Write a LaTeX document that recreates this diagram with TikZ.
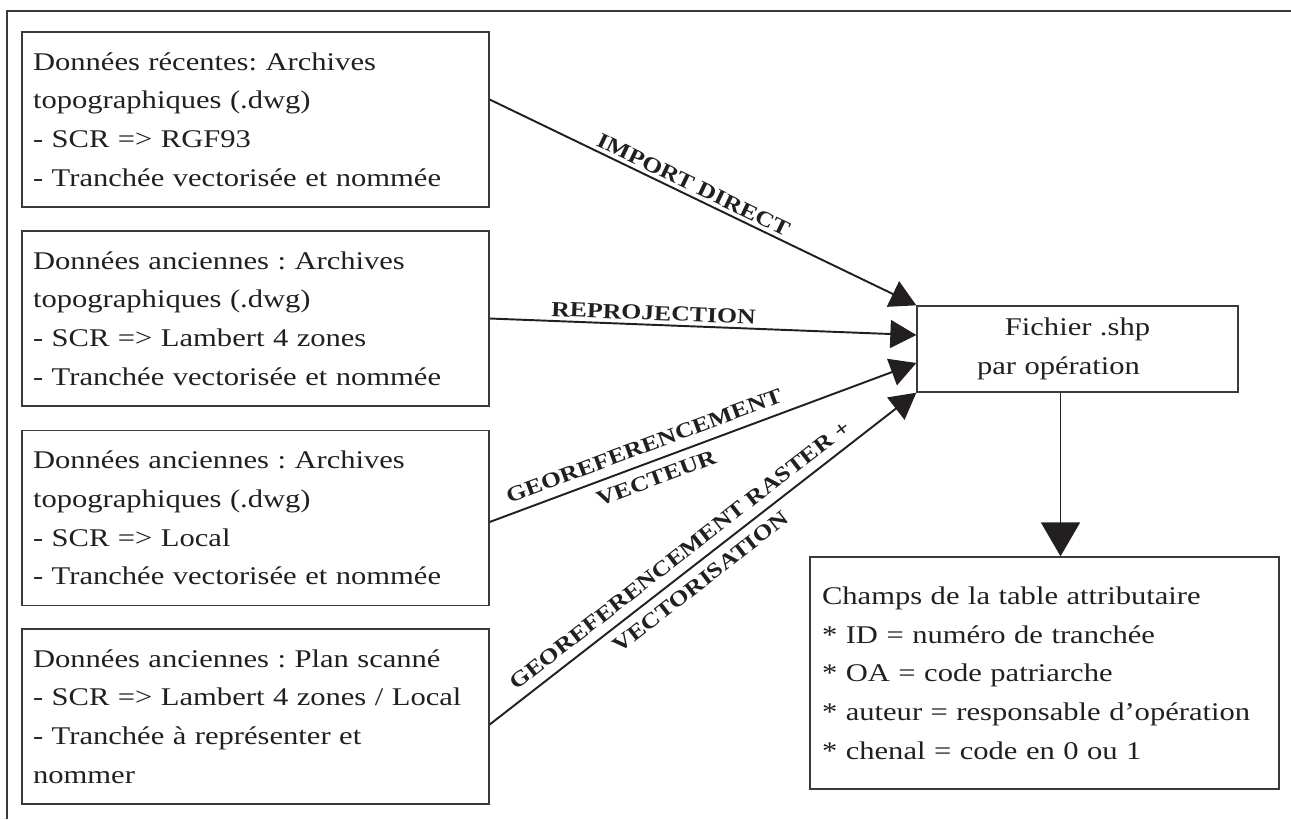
\documentclass[tikz,border=0pt]{standalone}
\usepackage{fontspec}
\setmainfont{Liberation Serif}[FakeStretch=1.2]
\usetikzlibrary{arrows.meta}
\definecolor{ink}{HTML}{231F20}
\definecolor{framegray}{HTML}{3A3A3A}
\frenchspacing

\begin{document}
\begin{tikzpicture}[x=0.02cm, y=-0.02cm,
    srcbox/.style={draw=framegray, line width=0.8pt, text=ink, align=left,
      text width=8.9cm, minimum width=9.34cm, minimum height=3.5cm, inner xsep=0.2cm,
      font=\fontsize{14.5}{22}\selectfont},
    flow/.style={draw=ink, line width=1.1pt, -{Triangle[length=0.52cm, width=0.56cm]}},
    flowlabel/.style={sloped, text=ink, align=center, inner sep=2pt,
      font=\fontsize{12.2}{19.5}\selectfont\bfseries}]
      \useasboundingbox (0,0) rectangle (1291,819);

      % Outer frame (top and left edges only)
      \draw[framegray, line width=1.1pt] (7,819) -- (7,11) -- (1291,11);

      % Source data boxes
      \node[srcbox] (recent) at (255.5,119.5) {Données récentes: Archives\\topographiques (.dwg)\\- SCR => RGF93\\- Tranchée vectorisée et nommée};
      \node[srcbox] (lambert) at (255.5,318.5) {Données anciennes : Archives\\topographiques (.dwg)\\- SCR => Lambert 4 zones\\- Tranchée vectorisée et nommée};
      \node[srcbox] (local) at (255.5,518) {Données anciennes : Archives\\topographiques (.dwg)\\- SCR => Local\\- Tranchée vectorisée et nommée};
      \node[srcbox] (scan) at (255.5,716.5) {Données anciennes : Plan scanné\\- SCR => Lambert 4 zones / Local\\- Tranchée à représenter et\\nommer};

      % Output file and attribute table
      \node[srcbox, align=center, text width=6cm, minimum width=6.42cm, minimum height=1.72cm] (fichier) at (1077.5,349) {Fichier .shp\hspace*{0.76cm}\\par opération\hspace*{0.76cm}};
      \node[srcbox, minimum height=4.64cm, inner xsep=0.24cm] (champs) at (1044.5,673) {Champs de la table attributaire\\{}* ID = numéro de tranchée\\{}* OA = code patriarche\\{}* auteur = responsable d’opération\\{}* chenal = code en 0 ou 1};

      % Flows into the shapefile
      \draw[flow] ([yshift=0.4cm]recent.east) -- (fichier.north west)
          node[flowlabel, above, pos=0.466] {IMPORT DIRECT};
      \draw[flow] (lambert.east) -- ([yshift=0.28cm]fichier.west)
          node[flowlabel, above, pos=0.383] {REPROJECTION};
      \draw[flow] ([yshift=-0.08cm]local.east) -- ([yshift=-0.28cm]fichier.west)
          node[flowlabel, pos=0.376] {GEOREFERENCEMENT\\VECTEUR};
      \draw[flow] ([yshift=-0.16cm]scan.east) -- (fichier.south west)
          node[flowlabel, pos=0.47] {GEOREFERENCEMENT RASTER +\\VECTORISATION};

      \draw[flow, -{Triangle[length=0.68cm, width=0.78cm]}] ([xshift=-0.34cm]fichier.south) -- ([xshift=-0.34cm]fichier.south |- champs.north);
    \end{tikzpicture}
\end{document}
